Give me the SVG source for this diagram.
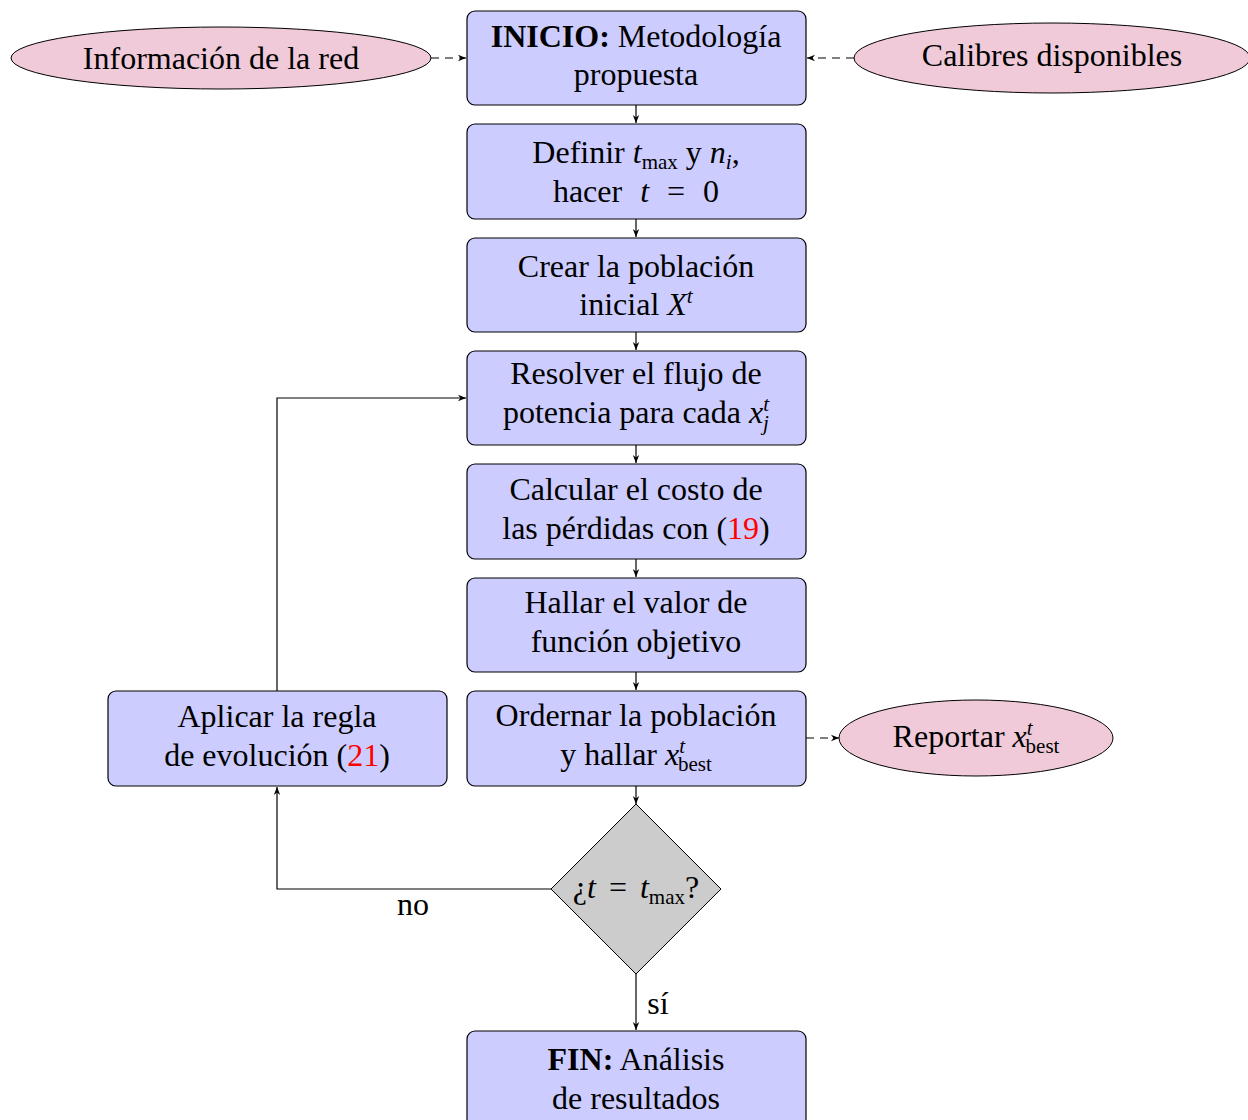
<svg xmlns="http://www.w3.org/2000/svg" width="1248" height="1120" viewBox="0 0 1248 1120" font-family="'Liberation Serif', 'DejaVu Serif', serif">
<style>
.box{fill:#ccccff;stroke:#000;stroke-width:1.2}
.ell{fill:#f0cad8;stroke:#000;stroke-width:1}
.dia{fill:#cccccc;stroke:#000;stroke-width:1}
text{font-family:'Liberation Serif','DejaVu Serif',serif;font-size:32px;fill:#000;text-anchor:middle}
.it{font-style:italic}
.sub{font-size:21px}
.b{font-weight:bold}
.red{fill:#ff0000}
.ln{fill:none;stroke:#000;stroke-width:1.2}
.dash{fill:none;stroke:#000;stroke-width:1.2;stroke-dasharray:8 6}
</style>
<defs>
<marker id="ah" viewBox="0 0 10 10" refX="10" refY="5" markerWidth="8" markerHeight="8" markerUnits="userSpaceOnUse" orient="auto">
<path d="M0,1 L10,5 L0,9 L3,5 Z" fill="#000"/>
</marker>
</defs>
<rect width="1248" height="1120" fill="#fff"/>
<g id="connectors">
<path class="ln" d="M636,105 V123" marker-end="url(#ah)"/>
<path class="ln" d="M636,219 V237" marker-end="url(#ah)"/>
<path class="ln" d="M636,332 V350" marker-end="url(#ah)"/>
<path class="ln" d="M636,445 V463" marker-end="url(#ah)"/>
<path class="ln" d="M636,559 V577" marker-end="url(#ah)"/>
<path class="ln" d="M636,672 V690" marker-end="url(#ah)"/>
<path class="ln" d="M636,786 V804" marker-end="url(#ah)"/>
<path class="ln" d="M636,974 V1030" marker-end="url(#ah)"/>
<path class="ln" d="M551,889 H277 V787" marker-end="url(#ah)"/>
<path class="ln" d="M277,691 V398 H466" marker-end="url(#ah)"/>
<path class="dash" d="M431,58 H466" marker-end="url(#ah)"/>
<path class="dash" d="M854,58 H807" marker-end="url(#ah)"/>
<path class="dash" d="M806,738 H839" marker-end="url(#ah)"/>
<text x="413" y="915">no</text>
<text x="658" y="1014">sí</text>
</g>
<g id="info">
<ellipse class="ell" cx="221" cy="58" rx="210" ry="31"/>
<text x="221" y="69">Información de la red</text>
</g>
<g id="calibres">
<ellipse class="ell" cx="1052" cy="58" rx="198" ry="35"/>
<text x="1052" y="66">Calibres disponibles</text>
</g>
<g id="inicio">
<rect class="box" x="467" y="11" width="339" height="94" rx="8"/>
<text x="636" y="47"><tspan class="b">INICIO:</tspan> Metodología</text>
<text x="636" y="85">propuesta</text>
</g>
<g id="definir">
<rect class="box" x="467" y="124" width="339" height="95" rx="8"/>
<text x="636" y="163">Definir <tspan class="it">t</tspan><tspan class="sub" dy="6">max</tspan><tspan dy="-6"> y </tspan><tspan class="it">n</tspan><tspan class="sub it" dy="6">i</tspan><tspan dy="-6">,</tspan></text>
<text x="636" y="202" word-spacing="10">hacer <tspan class="it">t</tspan> = 0</text>
</g>
<g id="crear">
<rect class="box" x="467" y="238" width="339" height="94" rx="8"/>
<text x="636" y="277">Crear la población</text>
<text x="636" y="315">inicial <tspan class="it">X</tspan><tspan class="sub it" dy="-12">t</tspan></text>
</g>
<g id="resolver">
<rect class="box" x="467" y="351" width="339" height="94" rx="8"/>
<text x="636" y="384">Resolver el flujo de</text>
<text x="636" y="423">potencia para cada <tspan class="it">x</tspan><tspan class="sub it" dy="-12">t</tspan><tspan class="sub it" dx="-6" dy="19">j</tspan></text>
</g>
<g id="calcular">
<rect class="box" x="467" y="464" width="339" height="95" rx="8"/>
<text x="636" y="500">Calcular el costo de</text>
<text x="636" y="539">las pérdidas con (<tspan class="red">19</tspan>)</text>
</g>
<g id="hallar">
<rect class="box" x="467" y="578" width="339" height="94" rx="8"/>
<text x="636" y="613">Hallar el valor de</text>
<text x="636" y="652">función objetivo</text>
</g>
<g id="ordenar">
<rect class="box" x="467" y="691" width="339" height="95" rx="8"/>
<text x="636" y="726">Ordernar la población</text>
<text x="636" y="765">y hallar <tspan class="it">x</tspan><tspan class="sub it" dy="-12">t</tspan><tspan class="sub" dx="-7" dy="18">best</tspan></text>
</g>
<g id="aplicar">
<rect class="box" x="108" y="691" width="339" height="95" rx="8"/>
<text x="277" y="727">Aplicar la regla</text>
<text x="277" y="766">de evolución (<tspan class="red">21</tspan>)</text>
</g>
<g id="reportar">
<ellipse class="ell" cx="976" cy="738" rx="137" ry="38"/>
<text x="976" y="747">Reportar <tspan class="it">x</tspan><tspan class="sub it" dy="-12">t</tspan><tspan class="sub" dx="-7" dy="18">best</tspan></text>
</g>
<g id="decision">
<polygon class="dia" points="636,804 721,889 636,974 551,889"/>
<text x="636" y="898" word-spacing="5">¿<tspan class="it">t</tspan> = <tspan class="it">t</tspan><tspan class="sub" dy="6">max</tspan><tspan dy="-6">?</tspan></text>
</g>
<g id="fin">
<rect class="box" x="467" y="1031" width="339" height="100" rx="8"/>
<text x="636" y="1070"><tspan class="b">FIN:</tspan> Análisis</text>
<text x="636" y="1109">de resultados</text>
</g>
</svg>
